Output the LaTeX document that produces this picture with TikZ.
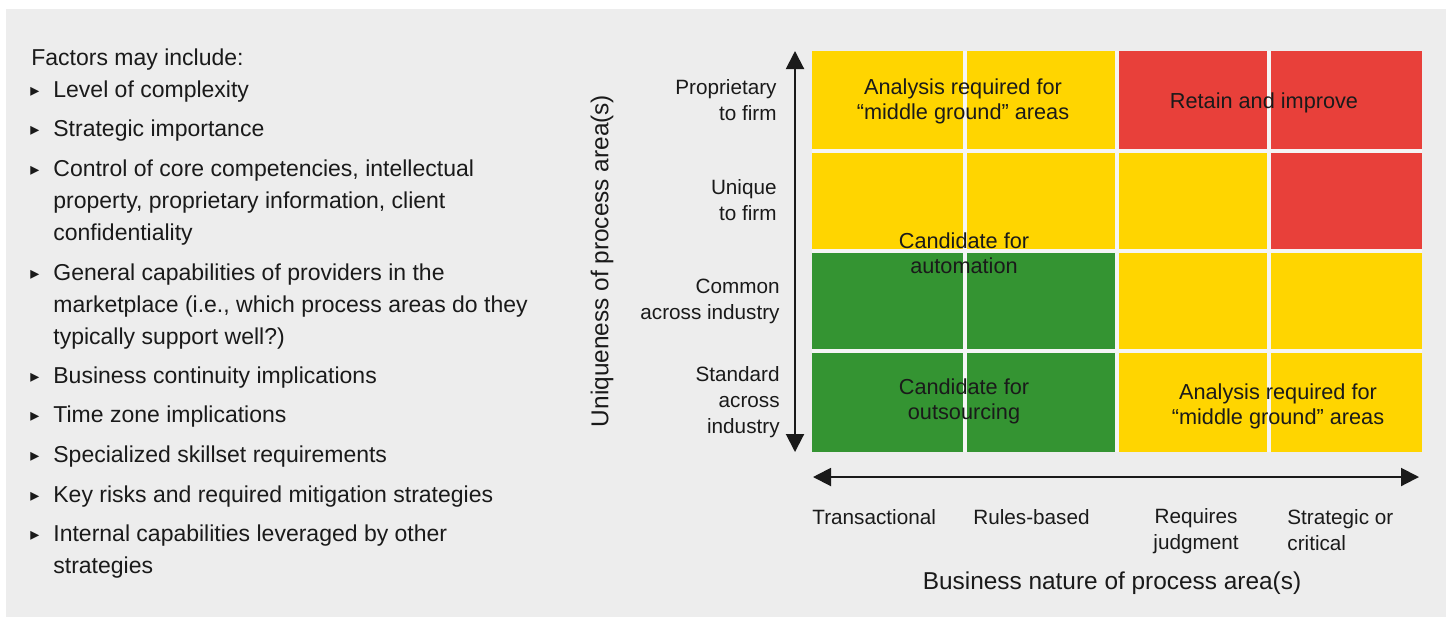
\documentclass[tikz,border=0pt]{standalone}
\usepackage{fontspec}
\setmainfont{Liberation Sans}
\newfontfamily\symfont{DejaVu Sans}
\usetikzlibrary{arrows.meta}

\definecolor{bggrey}{HTML}{EDEDED}
\definecolor{gapgrey}{HTML}{F5F5F5}
\definecolor{yel}{HTML}{FFD500}
\definecolor{rd}{HTML}{E8403A}
\definecolor{grn}{HTML}{349432}
\definecolor{ink}{HTML}{1A1A1A}

\newcommand{\tri}{{\symfont\fontsize{9}{9}\selectfont ▸}}

\begin{document}
\begin{tikzpicture}[x=0.5pt,y=-0.5pt,
  txt/.style={font=\fontsize{11.5}{16}\selectfont, inner sep=0pt, text=ink, align=left},
  cell/.style={font=\fontsize{10.85}{12.5}\selectfont, inner sep=0pt, text=ink, align=center},
  lab/.style={font=\fontsize{10.35}{13}\selectfont, inner sep=0pt, text=ink},
  ttl/.style={font=\fontsize{12.2}{14}\selectfont, inner sep=0pt, text=ink},
  arr/.style={draw=ink, line width=1pt, {Triangle[width=9pt,length=9pt]}-{Triangle[width=9pt,length=9pt]}}]
\useasboundingbox (0,0) rectangle (1449,618);
\fill[bggrey] (6,9) rectangle (1446,617);

% factors list
\node[txt, anchor=west] (f0) at (31,60) {Factors may include:};
\node[txt] (b1) at (35,92) {\tri};
\node[txt, anchor=west] (f1) at (53,92) {Level of complexity};
\node[txt] (b2) at (35,131) {\tri};
\node[txt, anchor=west] (f2) at (53,131) {Strategic importance};
\node[txt] (b3) at (35,171) {\tri};
\node[txt, anchor=west] (f3) at (53,203) {Control of core competencies, intellectual\\property, proprietary information, client\\confidentiality};
\node[txt] (b4) at (35,275) {\tri};
\node[txt, anchor=west] (f4) at (53,307) {General capabilities of providers in the\\marketplace (i.e., which process areas do they\\typically support well?)};
\node[txt] (b5) at (35,378) {\tri};
\node[txt, anchor=west] (f5) at (53,378) {Business continuity implications};
\node[txt] (b6) at (35,417) {\tri};
\node[txt, anchor=west] (f6) at (53,417) {Time zone implications};
\node[txt] (b7) at (35,457) {\tri};
\node[txt, anchor=west] (f7) at (53,457) {Specialized skillset requirements};
\node[txt] (b8) at (35,497) {\tri};
\node[txt, anchor=west] (f8) at (53,497) {Key risks and required mitigation strategies};
\node[txt] (b9) at (35,536) {\tri};
\node[txt, anchor=west] (f9) at (53,552) {Internal capabilities leveraged by other\\strategies};

% grid
\fill[gapgrey] (812,51) rectangle (1422,452);
\fill[yel] (812,51) rectangle (963,149);
\fill[yel] (967,51) rectangle (1115,149);
\fill[rd] (1119,51) rectangle (1267,149);
\fill[rd] (1271,51) rectangle (1422,149);
\fill[yel] (812,153) rectangle (963,249);
\fill[yel] (967,153) rectangle (1115,249);
\fill[yel] (1119,153) rectangle (1267,249);
\fill[rd] (1271,153) rectangle (1422,249);
\fill[grn] (812,253) rectangle (963,349);
\fill[grn] (967,253) rectangle (1115,349);
\fill[yel] (1119,253) rectangle (1267,349);
\fill[yel] (1271,253) rectangle (1422,349);
\fill[grn] (812,353) rectangle (963,452);
\fill[grn] (967,353) rectangle (1115,452);
\fill[yel] (1119,353) rectangle (1267,452);
\fill[yel] (1271,353) rectangle (1422,452);

\node[cell] (a1) at (963,101) {Analysis required for\\``middle ground'' areas};
\node[cell] (r1) at (1264,103) {Retain and improve};
\node[cell] (c1) at (964,253) {Candidate for\\automation};
\node[cell] (c2) at (964,401) {Candidate for\\outsourcing};
\node[cell] (a2) at (1278,406) {Analysis required for\\``middle ground'' areas};

% axes
\coordinate (ylo) at (795,452);
\coordinate (yhi) at (795,51);
\coordinate (xlo) at (813,477);
\coordinate (xhi) at (1419,477);
\path[arr] (ylo) -- (yhi);
\path[arr] (xlo) -- (xhi);

\node[lab, align=right, anchor=east] (y1) at (777,100) {Proprietary\\to firm};
\node[lab, align=right, anchor=east] (y2) at (777,200) {Unique\\to firm};
\node[lab, align=right, anchor=east] (y3) at (780,301) {Common\\across industry};
\node[lab, align=right, anchor=east] (y4) at (780,402) {Standard\\across\\industry};
\node[ttl, rotate=90] (yt) at (602,261) {Uniqueness of process area(s)};

\node[lab, anchor=west] (x1) at (812,517) {Transactional};
\node[lab, anchor=west] (x2) at (973,517) {Rules-based};
\node[lab, align=center] (x3) at (1196,531) {Requires\\judgment};
\node[lab, align=left, anchor=west] (x4) at (1287,530) {Strategic or\\critical};
\node[ttl] (xt) at (1112,583) {Business nature of process area(s)};
\end{tikzpicture}
\end{document}
